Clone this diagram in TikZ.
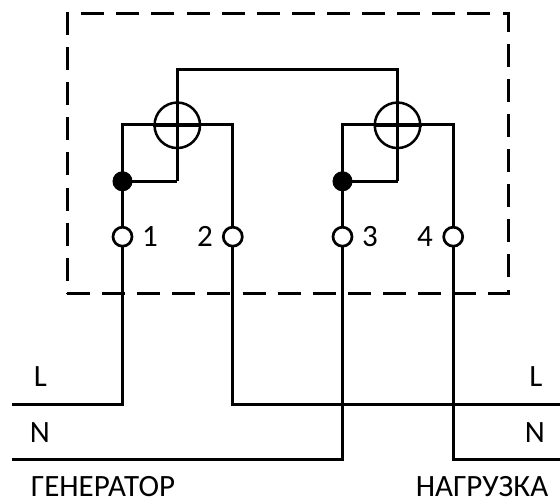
\documentclass[tikz,border=0pt]{standalone}
\usepackage{fontspec}
\setmainfont{Carlito}
\tikzset{
  wire/.style={line width=3pt,line join=miter},
  frame/.style={line width=3pt,dash pattern=on 23pt off 12.12pt},
  sensor/.style={circle,draw,line width=2.5pt,minimum size=45.5pt,inner sep=0pt},
  joint/.style={circle,draw,fill=black,line width=1pt,minimum size=19pt,inner sep=0pt},
  terminal/.style={circle,draw,fill=white,line width=2.7pt,minimum size=19pt,inner sep=0pt},
  label/.style={font=\fontsize{31}{34}\selectfont,inner sep=0pt,anchor=base}
}
\begin{document}
\begin{tikzpicture}[x=1pt,y=-1pt]
\useasboundingbox (0,0) rectangle (560,500);
\draw[frame] (67,293) -- (508,293) -- (508,14) -- (67,14) -- cycle;

\coordinate (topL) at (177.3,70);
\coordinate (topR) at (397.5,70);
\coordinate (a1) at (122.5,125);
\coordinate (a2) at (232.8,125);
\coordinate (a3) at (342.5,125);
\coordinate (a4) at (453.2,125);
\coordinate (c1) at (177.3,181.3);
\coordinate (c2) at (397.5,181.3);
\coordinate (lineL) at (122.5,404);
\coordinate (line2) at (232.8,404);
\coordinate (line3) at (342.5,459.3);
\coordinate (line4) at (453.2,459.3);
\coordinate (lw) at (12,404);
\coordinate (le) at (560,404);
\coordinate (nw) at (12,459.3);
\coordinate (ne) at (560,459.3);

\node[joint] (j1) at (122.5,181.3) {};
\node[joint] (j2) at (342.5,181.3) {};

\draw[wire] (c1) -- (topL) -- (topR) -- (c2);
\draw[wire] (j1.center) -- (c1);
\draw[wire] (j2.center) -- (c2);
\draw[wire] (lw) -- (lineL) -- (a1) -- (a2) -- (line2) -- (le);
\draw[wire] (nw) -- (line3) -- (a3) -- (a4) -- (line4) -- (ne);

\node[sensor] (s1) at (177.3,125.3) {};
\node[sensor] (s2) at (397.5,125.3) {};

\node[terminal] (t1) at (122.5,236.7) {};
\node[terminal] (t2) at (232.8,236.7) {};
\node[terminal] (t3) at (342.5,236.7) {};
\node[terminal] (t4) at (453.2,236.7) {};
\draw[wire,line width=2.5pt] (s1.north) -- (s1.south);
\draw[wire,line width=2.5pt] (s1.west) -- (s1.east);
\draw[wire,line width=2.5pt] (s2.north) -- (s2.south);
\draw[wire,line width=2.5pt] (s2.west) -- (s2.east);

\node[label] (n1) at (150,246) {1};
\node[label] (n2) at (205,246) {2};
\node[label] (n3) at (370,246) {3};
\node[label] (n4) at (425,246) {4};
\node[label] (tl1) at (40.5,386) {L};
\node[label] (tn1) at (40,442) {N};
\node[label] (tl2) at (536,386) {L};
\node[label] (tn2) at (535,442) {N};
\node[label] (gen) at (103,496.5) {ГЕНЕРАТОР};
\node[label] (load) at (482,496.5) {НАГРУЗКА};
\end{tikzpicture}
\end{document}
